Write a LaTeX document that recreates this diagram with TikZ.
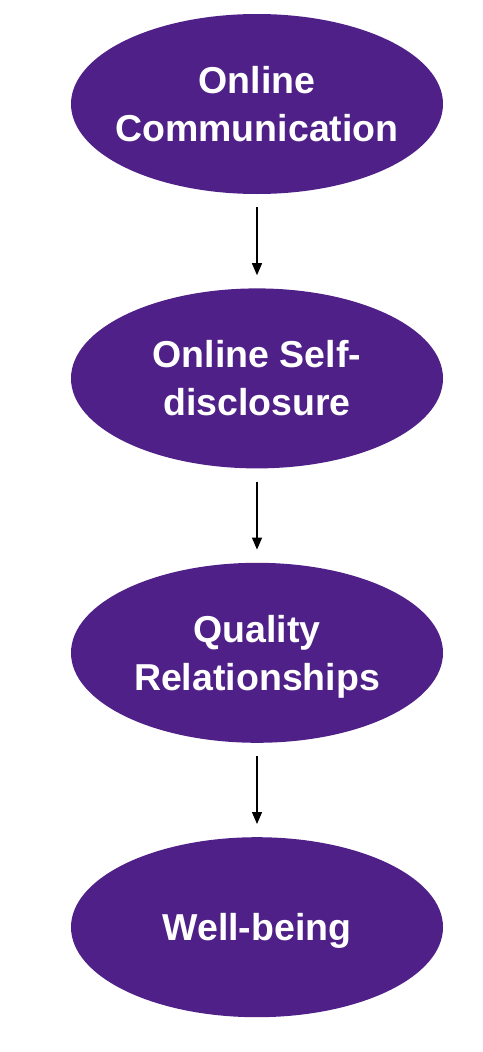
\documentclass[tikz,border=0pt]{standalone}
\usepackage{fontspec}
\setmainfont{Liberation Sans}
\usepackage{tikz}
\usetikzlibrary{arrows.meta,shapes,positioning}
\usepackage{xcolor}
\definecolor{stagepurple}{RGB}{79,32,136}
\tikzstyle{arrow} = [line width=1.3pt,-{Triangle[length=12pt,width=10pt]},color=black,shorten <=13pt,shorten >=13pt]
\tikzstyle{stage} = [ellipse, minimum width=372pt, minimum height=180pt, inner xsep=-60pt, inner ysep=0pt, text depth=0pt, align=center, fill=stagepurple, text=white, font=\fontsize{37.5}{48}\selectfont\bfseries]

\begin{document}
\begin{tikzpicture}
\useasboundingbox (0pt,0pt) rectangle (482pt,-1052pt);

% Stages
\node[stage] (comm) at (257pt,-104pt) {Online\\Communication};
\node[stage, below=94pt of comm] (disclose) {Online Self-\\disclosure};
\node[stage, below=94pt of disclose] (quality) {Quality\\Relationships};
\node[stage, below=94pt of quality] (wellbeing) {Well-being};

% Arrows
\draw[arrow] (comm) -- (disclose);
\draw[arrow] (disclose) -- (quality);
\draw[arrow] (quality) -- (wellbeing);
\end{tikzpicture}
\end{document}
